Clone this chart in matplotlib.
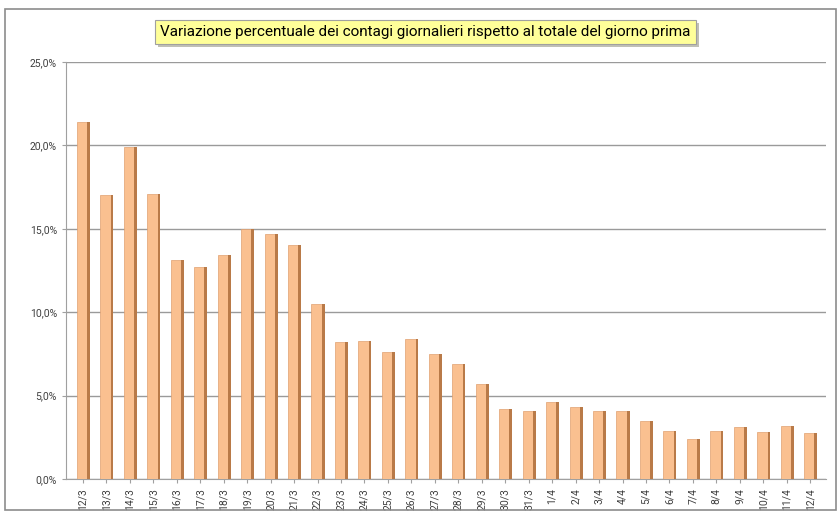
import matplotlib
matplotlib.use("Agg")
import matplotlib.pyplot as plt
import matplotlib.patches as mpatches
import matplotlib.patheffects as pe
import numpy as np

# dati (variazione % giornaliera)
giorni = ['12/3', '13/3', '14/3', '15/3', '16/3', '17/3', '18/3', '19/3', '20/3', '21/3',
          '22/3', '23/3', '24/3', '25/3', '26/3', '27/3', '28/3', '29/3', '30/3', '31/3',
          '1/4', '2/4', '3/4', '4/4', '5/4', '6/4', '7/4', '8/4', '9/4', '10/4', '11/4', '12/4']
variazione = [21.4, 17.0, 19.9, 17.1, 13.1, 12.7, 13.4, 15.0, 14.7, 14.0,
              10.5, 8.2, 8.3, 7.6, 8.4, 7.5, 6.9, 5.7, 4.2, 4.1,
              4.6, 4.3, 4.1, 4.1, 3.5, 2.9, 2.4, 2.9, 3.1, 2.8, 3.2, 2.75]
y_ticks = [0, 5, 10, 15, 20, 25]

plt.rcParams['font.family'] = ['Roboto', 'DejaVu Sans']

fig = plt.figure(figsize=(8.39, 5.18), dpi=100)
ax = fig.add_axes([0.0787, 0.0753, 0.906, 0.805])

x = np.arange(len(giorni))
# faccia frontale + lato scuro per imitare le barre 3D di Excel
ax.bar(x - 0.04, variazione, width=0.44, color='#FAC090', edgecolor='#E0A070',
       linewidth=0.5, zorder=3)
ax.bar(x + 0.24, variazione, width=0.12, color='#B97A48', linewidth=0, zorder=3)

ax.set_xlim(-0.72, 31.68)
ax.set_ylim(0, 25)
ax.set_yticks(y_ticks)
ax.set_yticklabels([('%.1f' % v).replace('.', ',') + '%' for v in y_ticks],
                   fontsize=7.5, color='#404040')
ax.set_xticks(x)
ax.set_xticklabels(giorni, rotation=90, fontsize=7.5, color='#404040')
ax.tick_params(axis='both', length=3, color='#A0A0A0')

ax.grid(axis='y', color='#9A9A9A', linewidth=1.0, zorder=0)
for s in ['top', 'right']:
    ax.spines[s].set_visible(False)
ax.spines['left'].set_color('#A0A0A0')
ax.spines['bottom'].set_color('#A0A0A0')

# cornice esterna
fig.patches.append(mpatches.Rectangle((0.006, 0.015), 0.99, 0.968, transform=fig.transFigure,
                                      fill=False, edgecolor='#8C8C8C', linewidth=1.2))

titolo = fig.text(0.507, 0.938,
                  'Variazione percentuale dei contagi giornalieri rispetto al totale del giorno prima',
                  ha='center', va='center', fontsize=11, color='black',
                  bbox=dict(boxstyle='square,pad=0.35', facecolor='#FFFF99',
                            edgecolor='#A0A0A0', linewidth=0.8))
titolo.get_bbox_patch().set_path_effects([pe.withSimplePatchShadow(offset=(2, -2), alpha=0.35)])

fig.savefig('out.png', dpi=100)
